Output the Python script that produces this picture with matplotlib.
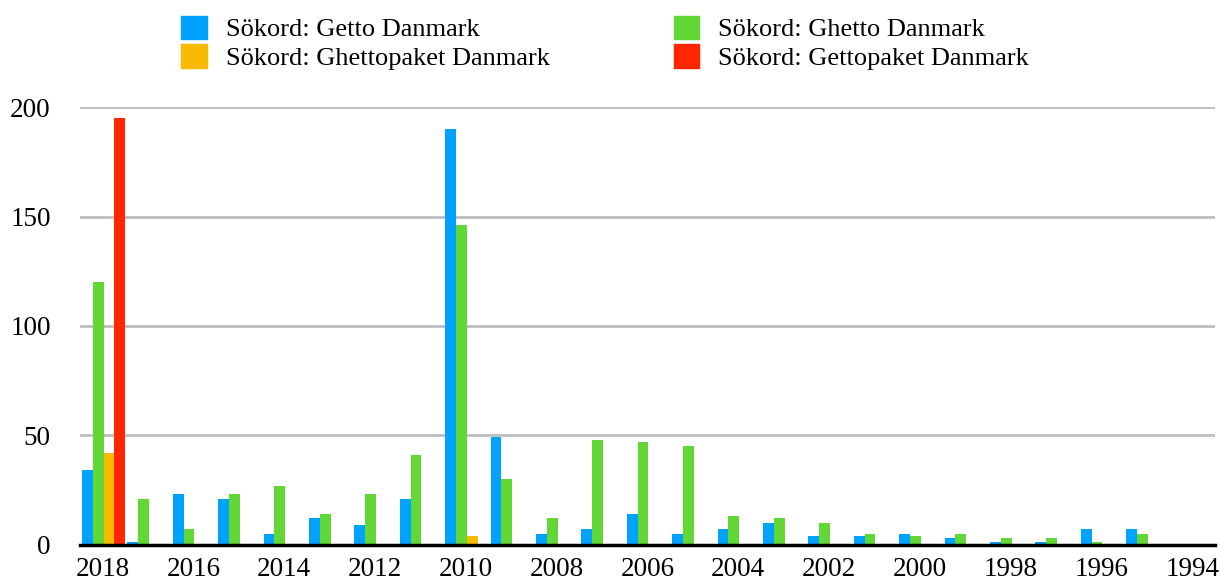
import matplotlib
matplotlib.use("Agg")
import matplotlib.pyplot as plt
import numpy as np
from matplotlib.patches import Patch

years = [str(y) for y in range(2018, 1993, -1)]
getto = [34, 1, 23, 21, 5, 12, 9, 21, 190, 49, 5, 7, 14, 5, 7, 10, 4, 4, 5, 3, 1, 1, 7, 7, 0]
ghetto = [120, 21, 7, 23, 27, 14, 23, 41, 146, 30, 12, 48, 47, 45, 13, 12, 10, 5, 4, 5, 3, 3, 1, 5, 0]
ghettopaket = [42, 0, 0, 0, 0, 0, 0, 0, 4, 0, 0, 0, 0, 0, 0, 0, 0, 0, 0, 0, 0, 0, 0, 0, 0]
gettopaket = [195, 0, 0, 0, 0, 0, 0, 0, 0, 0, 0, 0, 0, 0, 0, 0, 0, 0, 0, 0, 0, 0, 0, 0, 0]

series = [
    ("Sökord: Getto Danmark", getto, "#00A2FF"),
    ("Sökord: Ghetto Danmark", ghetto, "#61D836"),
    ("Sökord: Ghettopaket Danmark", ghettopaket, "#F8BA00"),
    ("Sökord: Gettopaket Danmark", gettopaket, "#FF2600"),
]

plt.rcParams['font.family'] = ['Liberation Serif', 'DejaVu Serif']

fig = plt.figure(figsize=(12.29, 5.81), dpi=100)
ax = fig.add_axes([80/1229, 1-544.6/581, (1215-80)/1229, (544.6-107.3)/581])

x = np.arange(len(years))
w = 0.237
for k, (name, vals, col) in enumerate(series):
    ax.bar(x + (k - 1.5) * w + 0.02, vals, width=w, color=col, linewidth=0, zorder=3)

ax.set_xlim(-0.5, len(years) - 0.5)
ax.set_ylim(0, 200)
ax.set_yticks([0, 50, 100, 150, 200])
ax.set_xticks(x[::2])
ax.set_xticklabels(years[::2])
ax.tick_params(axis='both', length=0, labelsize=19.5, colors='black')
ax.tick_params(axis='y', pad=21)
ax.tick_params(axis='x', pad=9)
ax.grid(axis='y', color='#BDBDBD', linewidth=2, zorder=0)
for s in ['top', 'right', 'left']:
    ax.spines[s].set_visible(False)
ax.spines['bottom'].set_linewidth(2.5)
ax.spines['bottom'].set_color('black')
ax.spines['bottom'].set_zorder(4)

handles = [Patch(color=c, label=n) for n, _, c in series]
order = [0, 2, 1, 3]
fig.legend([handles[i] for i in order], [handles[i].get_label() for i in order],
           loc='upper left', bbox_to_anchor=(163/1229, 1.005), ncol=2, frameon=False,
           fontsize=19, handlelength=0.95, handleheight=1.0, handletextpad=0.72,
           columnspacing=4.73, labelspacing=0.1, borderaxespad=0.3)

fig.savefig("out.png", dpi=100)
